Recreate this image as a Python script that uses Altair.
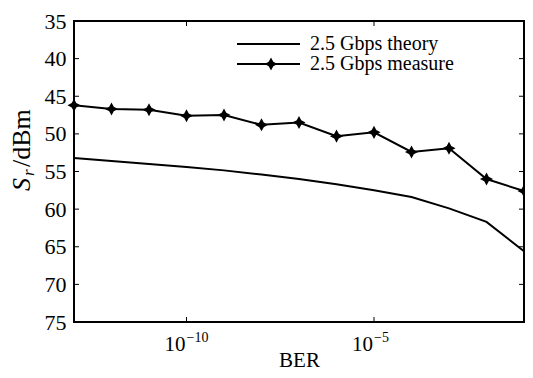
import altair as alt
import pandas as pd

# ---- data ----
ber_exp = [-13, -12, -11, -10, -9, -8, -7, -6, -5, -4, -3, -2, -1]
theory = [53.2, 53.6, 54.0, 54.4, 54.85, 55.4, 56.0, 56.7, 57.5, 58.4, 59.9, 61.7, 65.6]
measure = [46.2, 46.7, 46.8, 47.6, 47.5, 48.8, 48.5, 50.3, 49.8, 52.4, 51.9, 56.0, 57.6]
y_ticks = [35, 40, 45, 50, 55, 60, 65, 70, 75]
x_tick_exp = [-10, -5]
x_tick_sup = ["\u221210", "\u22125"]
legend_labels = ["2.5 Gbps theory", "2.5 Gbps measure"]

W, H = 450, 301
FONT = "Liberation Serif"

ber = [10.0 ** e for e in ber_exp]
df_theory = pd.DataFrame({"ber": ber, "s": theory})
df_measure = pd.DataFrame({"ber": ber, "s": measure})
df_yt = pd.DataFrame({"s": y_ticks})
df_xt = pd.DataFrame({"ber": [10.0 ** e for e in x_tick_exp], "sup": x_tick_sup})

xscale = alt.Scale(type="log", domain=[1e-13, 1e-1], nice=False)
yscale = alt.Scale(domain=[35, 75], reverse=True, nice=False, zero=False)

X = alt.X("ber:Q", scale=xscale,
          axis=alt.Axis(labels=False, ticks=False, domain=False, grid=False,
                        title="BER", titleFont=FONT, titleFontSize=21,
                        titleFontWeight="normal", titleColor="black", titlePadding=27))
Y = alt.Y("s:Q", scale=yscale,
          axis=alt.Axis(values=y_ticks, ticks=False, domain=False, grid=False,
                        labelFont=FONT, labelFontSize=22, labelColor="black",
                        labelPadding=8, labelOverlap=False, labelBound=False,
                        labelFlush=False, title=None))

star = "M0,-1L0.35,-0.35L1,0L0.35,0.35L0,1L-0.35,0.35L-1,0L-0.35,-0.35Z"

theory_line = alt.Chart(df_theory).mark_line(color="black", strokeWidth=2).encode(x=X, y=Y)
measure_line = alt.Chart(df_measure).mark_line(color="black", strokeWidth=2).encode(x=X, y=Y)
measure_pts = alt.Chart(df_measure).mark_point(
    shape=star, filled=True, color="black", size=170, opacity=1).encode(x=X, y=Y)

# inward ticks
yt_left = alt.Chart(df_yt).mark_rule(color="black", strokeWidth=1).encode(
    y=Y, x=alt.value(0), x2=alt.value(5))
yt_right = alt.Chart(df_yt).mark_rule(color="black", strokeWidth=1).encode(
    y=Y, x=alt.value(W - 5), x2=alt.value(W))
xt_bottom = alt.Chart(df_xt).mark_rule(color="black", strokeWidth=1).encode(
    x=X, y=alt.value(H - 5), y2=alt.value(H))
xt_top = alt.Chart(df_xt).mark_rule(color="black", strokeWidth=1).encode(
    x=X, y=alt.value(0), y2=alt.value(5))

# x tick labels 10^n
xl_base = alt.Chart(df_xt).mark_text(
    text="10", font=FONT, fontSize=21, align="right", baseline="middle", color="black", dx=-1
).encode(x=X, y=alt.value(H + 23))
xl_sup = alt.Chart(df_xt).mark_text(
    font=FONT, fontSize=14, align="left", baseline="middle", color="black", dx=0
).encode(x=X, y=alt.value(H + 16), text="sup:N")

# y title  S_r/dBm (rotated)
yt_S = alt.Chart(pd.DataFrame({"t": ["S"]})).mark_text(
    font=FONT, fontSize=26, fontStyle="italic", angle=270, align="left",
    baseline="alphabetic", color="black").encode(x=alt.value(-44), y=alt.value(170), text="t:N")
yt_r = alt.Chart(pd.DataFrame({"t": ["r"]})).mark_text(
    font=FONT, fontSize=17, fontStyle="italic", angle=270, align="left",
    baseline="alphabetic", color="black").encode(x=alt.value(-40), y=alt.value(155), text="t:N")
yt_rest = alt.Chart(pd.DataFrame({"t": ["/dBm"]})).mark_text(
    font=FONT, fontSize=26, angle=270, align="left",
    baseline="alphabetic", color="black").encode(x=alt.value(-44), y=alt.value(146), text="t:N")

# legend
leg_df = pd.DataFrame({"label": legend_labels})
leg_l1 = alt.Chart(leg_df.iloc[[0]]).mark_rule(color="black", strokeWidth=2).encode(
    x=alt.value(163), x2=alt.value(226), y=alt.value(23))
leg_l2 = alt.Chart(leg_df.iloc[[1]]).mark_rule(color="black", strokeWidth=2).encode(
    x=alt.value(163), x2=alt.value(226), y=alt.value(43))
leg_pt = alt.Chart(leg_df.iloc[[1]]).mark_point(
    shape=star, filled=True, color="black", size=170, opacity=1).encode(
    x=alt.value(197), y=alt.value(43))
leg_t1 = alt.Chart(leg_df.iloc[[0]]).mark_text(
    font=FONT, fontSize=20, align="left", baseline="middle", color="black").encode(
    x=alt.value(236), y=alt.value(23), text="label:N")
leg_t2 = alt.Chart(leg_df.iloc[[1]]).mark_text(
    font=FONT, fontSize=20, align="left", baseline="middle", color="black").encode(
    x=alt.value(236), y=alt.value(43), text="label:N")

chart = alt.layer(
    theory_line, measure_line, measure_pts,
    yt_left, yt_right, xt_bottom, xt_top,
    xl_base, xl_sup, yt_S, yt_r, yt_rest,
    leg_l1, leg_l2, leg_pt, leg_t1, leg_t2,
).properties(
    width=W, height=H,
    autosize=alt.AutoSizeParams(type="none"),
    padding={"left": 66, "top": 13, "right": 1, "bottom": 48},
    background="white",
).configure_view(stroke="black", strokeWidth=2)

chart.save("out.html", embed_options={"renderer": "svg", "actions": False})
